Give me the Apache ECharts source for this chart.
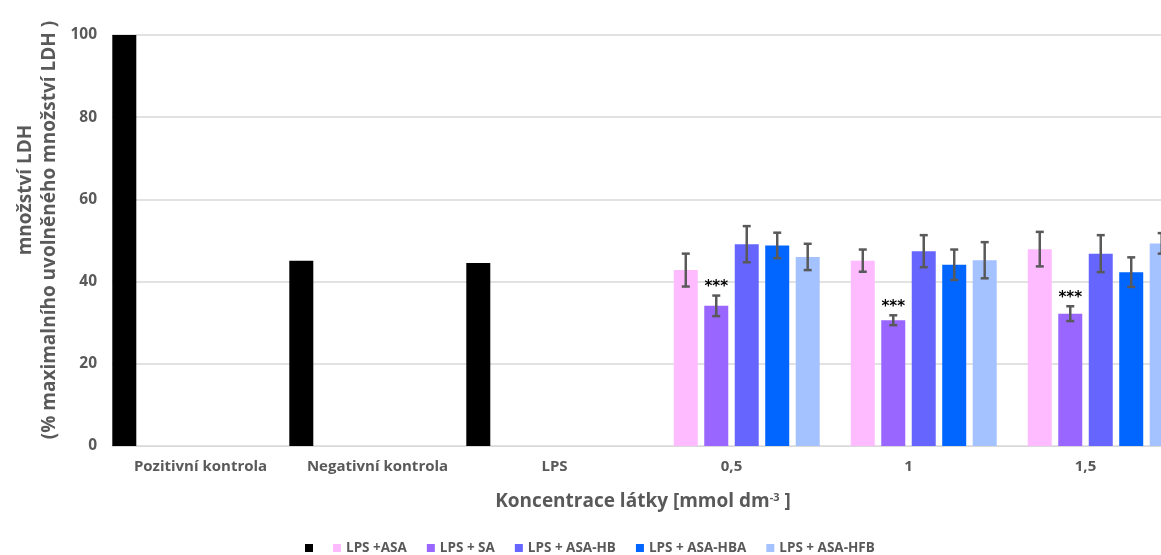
<!DOCTYPE html>
<html>
<head>
<meta charset="utf-8">
<script src="https://cdn.jsdelivr.net/npm/echarts@6/dist/echarts.min.js"></script>
<style>
  html, body { margin: 0; padding: 0; background: #fff; }
  #chart { width: 1161px; height: 555px; }
</style>
</head>
<body>
<div id="chart"></div>
<script>
// Categories along the x axis
const categories = ['Pozitivní kontrola', 'Negativní kontrola', 'LPS', '0,5', '1', '1,5'];

// Series names (the control series has no legend text)
const seriesNames = [' ', 'LPS +ASA', 'LPS + SA', 'LPS + ASA-HB', 'LPS + ASA-HBA', 'LPS + ASA-HFB'];

// LDH release, % of maximal release
const controlValues = [100, 45.1, 44.5, null, null, null];
const asaValues     = [null, null, null, 42.8, 45.1, 47.9];
const saValues      = [null, null, null, 34.1, 30.6, 32.2];
const hbValues      = [null, null, null, 49.1, 47.4, 46.8];
const hbaValues     = [null, null, null, 48.8, 44.1, 42.3];
const hfbValues     = [null, null, null, 46.0, 45.2, 49.3];

// Standard deviations
const controlErr = [null, null, null, null, null, null];
const asaErr     = [null, null, null, 4.0, 2.7, 4.2];
const saErr      = [null, null, null, 2.5, 1.2, 1.8];
const hbErr      = [null, null, null, 4.4, 3.9, 4.5];
const hbaErr     = [null, null, null, 3.1, 3.7, 3.6];
const hfbErr     = [null, null, null, 3.2, 4.4, 2.5];

// Significance marks
const saSignificance = ['', '', '', '***', '***', '***'];

const yTicks = [0, 20, 40, 60, 80, 100];

const colors = ['#000000', '#FFBBFF', '#9966FF', '#6666FF', '#0066FF', '#A3C2FF'];
const valueSets = [controlValues, asaValues, saValues, hbValues, hbaValues, hfbValues];
const errSets = [controlErr, asaErr, saErr, hbErr, hbaErr, hfbErr];
const markSets = [null, null, saSignificance, null, null, null];

const TEXT = '#595959';
const FONT = '"Open Sans", "Noto Sans", sans-serif';
const BAR_W = 24;
const BAR_GAP = 0.27;
const N = seriesNames.length;

const barSeries = seriesNames.map((name, i) => ({
  name: name,
  type: 'bar',
  barWidth: BAR_W,
  barGap: (BAR_GAP * 100) + '%',
  itemStyle: { color: colors[i] },
  data: valueSets[i].map(v => v === null ? '-' : v),
  z: 2
}));

// Error bar items: [categoryIndex, seriesIndex, value, error]
const errData = [];
const errMarks = [];
errSets.forEach((errs, s) => {
  errs.forEach((e, c) => {
    if (e !== null && valueSets[s][c] !== null) {
      errData.push([c, s, valueSets[s][c], e]);
      errMarks.push(markSets[s] ? markSets[s][c] : '');
    }
  });
});

function renderErr(params, api) {
  const c = api.value(0), s = api.value(1), v = api.value(2), e = api.value(3);
  const step = BAR_W * (1 + BAR_GAP);
  const groupW = N * BAR_W + (N - 1) * BAR_W * BAR_GAP;
  const center = api.coord([c, 0])[0];
  const x = center - groupW / 2 + s * step + BAR_W / 2;
  const yHi = api.coord([c, v + e])[1];
  const yLo = api.coord([c, v - e])[1];
  const cap = 4;
  const st = { stroke: '#595959', lineWidth: 2.5 };
  const children = [
    { type: 'line', shape: { x1: x, y1: yHi, x2: x, y2: yLo }, style: st },
    { type: 'line', shape: { x1: x - cap, y1: yHi, x2: x + cap, y2: yHi }, style: st },
    { type: 'line', shape: { x1: x - cap, y1: yLo, x2: x + cap, y2: yLo }, style: st }
  ];
  const mark = errMarks[params.dataIndex];
  if (mark) {
    children.push({
      type: 'text',
      style: {
        text: mark, x: x, y: yHi - 8, align: 'center', verticalAlign: 'middle',
        font: 'bold 15px "DejaVu Sans", sans-serif', fill: '#000'
      }
    });
  }
  return { type: 'group', children: children };
}

const chart = echarts.init(document.getElementById('chart'), null, { renderer: 'canvas' });
chart.setOption({
  animation: false,
  backgroundColor: '#fff',
  grid: { left: 112, top: 35, width: 1062, height: 411, containLabel: false, outerBoundsMode: 'none' },
  legend: {
    data: seriesNames,
    left: 305,
    top: 541,
    padding: 0,
    icon: 'rect',
    itemWidth: 8,
    itemHeight: 8,
    itemGap: 20,
    formatter: name => name.trim(),
    textStyle: { color: TEXT, fontFamily: FONT, fontWeight: 'bold', fontSize: 13.5 }
  },
  xAxis: {
    type: 'category',
    data: categories,
    axisLine: { lineStyle: { color: '#D9D9D9', width: 1 } },
    axisTick: { show: false },
    axisLabel: { interval: 0, hideOverlap: false, color: TEXT, fontFamily: FONT, fontWeight: 'bold', fontSize: 15, margin: 13 },
    name: 'Koncentrace látky [mmol dm{sup|-3} ]',
    nameLocation: 'middle',
    nameGap: 46,
    nameTextStyle: {
      color: TEXT, fontFamily: FONT, fontWeight: 'bold', fontSize: 19,
      rich: { sup: { color: TEXT, fontFamily: FONT, fontWeight: 'bold', fontSize: 11, verticalAlign: 'top', padding: [0, 0, 9, 0] } }
    }
  },
  yAxis: {
    type: 'value',
    min: yTicks[0],
    max: yTicks[yTicks.length - 1],
    interval: 20,
    axisLine: { show: false },
    axisTick: { show: false },
    splitLine: { lineStyle: { color: '#D9D9D9', width: 1.5 } },
    axisLabel: { color: TEXT, fontFamily: FONT, fontWeight: 'bold', fontSize: 15.5, margin: 15 }
  },
  graphic: [
    {
      type: 'text', x: 26, y: 190, rotation: Math.PI / 2,
      style: { text: 'množství LDH', align: 'center', verticalAlign: 'middle',
               font: 'bold 19px ' + FONT, fill: TEXT }
    },
    {
      type: 'text', x: 50, y: 230, rotation: Math.PI / 2,
      style: { text: '(% maximalního uvolněného množství LDH )', align: 'center', verticalAlign: 'middle',
               font: 'bold 19px ' + FONT, fill: TEXT }
    }
  ],
  series: barSeries.concat([{
    type: 'custom',
    name: 'err',
    renderItem: renderErr,
    data: errData,
    encode: { x: 0, y: 2 },
    z: 5,
    silent: true
  }])
});
</script>
</body>
</html>
